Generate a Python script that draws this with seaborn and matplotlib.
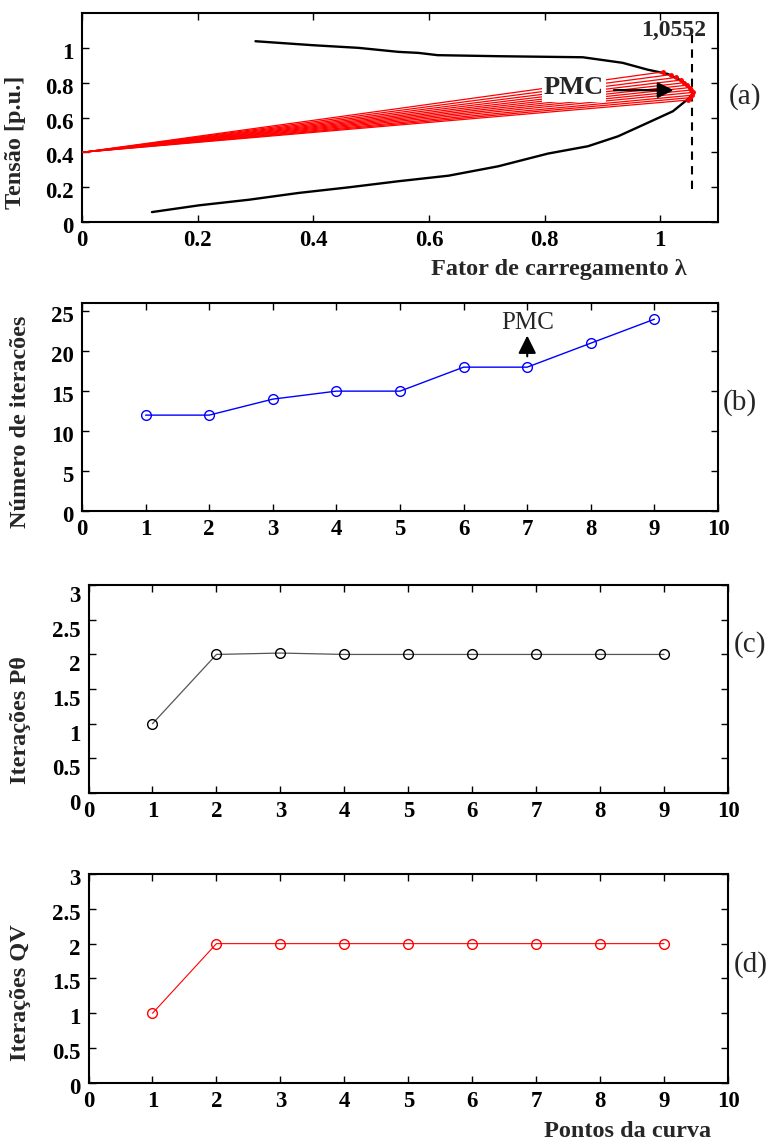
import matplotlib
matplotlib.use("Agg")
import matplotlib.pyplot as plt
from matplotlib.ticker import FuncFormatter, MultipleLocator
from matplotlib.transforms import ScaledTranslation
import pandas as pd
import seaborn as sns

# ---------------- data ----------------
# (a) PV curve (nose curve): loading factor vs. voltage
lam_curve = [0.300, 0.400, 0.478, 0.547, 0.582, 0.615, 0.720, 0.866, 0.935, 0.978,
             1.013, 1.039, 1.054, 1.056, 1.047, 1.022, 0.978, 0.927, 0.875, 0.806,
             0.720, 0.634, 0.547, 0.461, 0.375, 0.289, 0.203, 0.121]
v_curve = [1.038, 1.015, 1.000, 0.977, 0.971, 0.958, 0.952, 0.946, 0.914, 0.875,
           0.850, 0.808, 0.760, 0.732, 0.703, 0.636, 0.569, 0.492, 0.435, 0.393,
           0.320, 0.266, 0.234, 0.199, 0.167, 0.128, 0.096, 0.057]

# (a) points computed near the maximum loading point, joined to the pivot
lam_fan = [1.005, 1.018, 1.028, 1.036, 1.042, 1.047, 1.051, 1.054, 1.056, 1.055, 1.052, 1.048]
v_fan = [0.862, 0.846, 0.830, 0.815, 0.800, 0.786, 0.772, 0.758, 0.744, 0.728, 0.714, 0.700]
fan_pivot_lam = 0.0
fan_pivot_v = 0.40
lam_max = 1.0552

# (b)-(d) iterations per curve point
points = [1, 2, 3, 4, 5, 6, 7, 8, 9]
iter_total = [12, 12, 14, 15, 15, 18, 18, 21, 24]
iter_ptheta = [1, 2, 2.02, 2, 2, 2, 2, 2, 2]
iter_qv = [1, 2, 2, 2, 2, 2, 2, 2, 2]

# ---------------- style ----------------
sns.set_theme(style="ticks")
plt.rcParams["font.family"] = ["Liberation Serif", "DejaVu Serif"]
plt.rcParams["font.weight"] = "bold"
plt.rcParams["axes.labelweight"] = "bold"
plt.rcParams["axes.linewidth"] = 1.5
plt.rcParams["axes.edgecolor"] = "black"

TICK_FS = 16.5
LABEL_FS = 17.5
fmt = FuncFormatter(lambda v, p: "%g" % round(v, 3))

fig = plt.figure(figsize=(7.7, 11.42), dpi=100)


def style_axes(ax, ylab_shift=3):
    ax.tick_params(direction="in", length=5, width=1, top=True, right=True,
                   labelsize=TICK_FS, colors="black")
    ax.tick_params(axis="y", pad=6)
    ax.tick_params(axis="x", pad=6)
    for s in ax.spines.values():
        s.set_visible(True)
        s.set_linewidth(1.5)
        s.set_color("black")
    ax.xaxis.set_major_formatter(fmt)
    ax.yaxis.set_major_formatter(fmt)
    ax.grid(False)
    shift = ScaledTranslation(0, -ylab_shift / 100, fig.dpi_scale_trans)
    for lab in ax.get_yticklabels():
        lab.set_fontweight("bold")
        lab.set_transform(lab.get_transform() + shift)
    for lab in ax.get_xticklabels():
        lab.set_fontweight("bold")


# ---------------- (a) ----------------
ax_a = fig.add_axes([0.1065, 0.8056, 0.826, 0.183])
df_curve = pd.DataFrame({"lam": lam_curve, "v": v_curve})
sns.lineplot(data=df_curve, x="lam", y="v", sort=False, estimator=None,
             color="black", lw=1.7, ax=ax_a)
for lx, vy in zip(lam_fan, v_fan):
    ax_a.plot([fan_pivot_lam, lx], [fan_pivot_v, vy], color="red", lw=0.9, zorder=3)
ax_a.plot(lam_fan, v_fan, "o", color="red", ms=2.5, zorder=4)
ax_a.plot([lam_max, lam_max], [0.19, 1.09], color="black", lw=1.5,
          ls=(0, (4, 3)), zorder=2)
ax_a.text(1.023, 1.10, "1,0552", ha="center", va="center", fontsize=17,
          fontweight="bold")
ax_a.text(0.851, 0.77, "PMC", ha="center", va="center", fontsize=19,
          fontweight="bold", zorder=5,
          bbox=dict(facecolor="white", edgecolor="none", pad=1.5))
ax_a.annotate("", xy=(1.028, 0.757), xytext=(0.915, 0.757),
              arrowprops=dict(arrowstyle="-|>", color="black", lw=1.6,
                              mutation_scale=24), zorder=6)
ax_a.set_xlim(0, 1.1)
ax_a.set_ylim(0, 1.2)
ax_a.set_xticks([0, 0.2, 0.4, 0.6, 0.8, 1.0])
ax_a.set_yticks([0, 0.2, 0.4, 0.6, 0.8, 1.0])
style_axes(ax_a)
ax_a.set_xlabel("Fator de carregamento λ", fontsize=LABEL_FS, fontweight="bold")
ax_a.set_ylabel("Tensão [p.u.]", fontsize=LABEL_FS, fontweight="bold")
ax_a.xaxis.set_label_coords(0.75, -0.175)
ax_a.yaxis.set_label_coords(-0.088, 0.38)

# ---------------- (b) ----------------
ax_b = fig.add_axes([0.1065, 0.5525, 0.826, 0.182])
sns.lineplot(x=points, y=iter_total, color="blue", lw=1.0, marker="o",
             markersize=7, markerfacecolor="none", markeredgecolor="blue",
             markeredgewidth=1.0, ax=ax_b)
ax_b.annotate("", xy=(7, 22.3), xytext=(7, 19.0),
              arrowprops=dict(arrowstyle="-|>", color="black", lw=1.5,
                              mutation_scale=27))
ax_b.text(7, 23.5, "PMC", ha="center", va="center", fontsize=18,
          fontweight="normal")
ax_b.set_xlim(0, 10)
ax_b.set_ylim(0, 26)
ax_b.xaxis.set_major_locator(MultipleLocator(1))
ax_b.set_yticks([0, 5, 10, 15, 20, 25])
style_axes(ax_b)
ax_b.set_ylabel("Número de iteracões", fontsize=LABEL_FS, fontweight="bold")
ax_b.yaxis.set_label_coords(-0.08, 0.43)

# ---------------- (c) ----------------
ax_c = fig.add_axes([0.115, 0.3056, 0.8305, 0.182])
sns.lineplot(x=points, y=iter_ptheta, color="#555555", lw=0.9, marker="o",
             markersize=7, markerfacecolor="none", markeredgecolor="black",
             markeredgewidth=1.0, ax=ax_c)
ax_c.set_xlim(0, 10)
ax_c.set_ylim(0, 3)
ax_c.xaxis.set_major_locator(MultipleLocator(1))
ax_c.yaxis.set_major_locator(MultipleLocator(0.5))
style_axes(ax_c, ylab_shift=9)
ax_c.set_ylabel("Iterações Pθ", fontsize=LABEL_FS, fontweight="bold")
ax_c.yaxis.set_label_coords(-0.09, 0.35)

# ---------------- (d) ----------------
ax_d = fig.add_axes([0.115, 0.0517, 0.8305, 0.183])
sns.lineplot(x=points, y=iter_qv, color="red", lw=0.8, marker="o",
             markersize=7, markerfacecolor="none", markeredgecolor="red",
             markeredgewidth=1.0, ax=ax_d)
ax_d.set_xlim(0, 10)
ax_d.set_ylim(0, 3)
ax_d.xaxis.set_major_locator(MultipleLocator(1))
ax_d.yaxis.set_major_locator(MultipleLocator(0.5))
style_axes(ax_d)
ax_d.set_ylabel("Iterações QV", fontsize=LABEL_FS, fontweight="bold")
ax_d.set_xlabel("Pontos da curva", fontsize=LABEL_FS, fontweight="bold")
ax_d.yaxis.set_label_coords(-0.09, 0.43)
ax_d.xaxis.set_label_coords(0.843, -0.18)

# panel tags
for tag, (px, py) in {"(a)": (745, 97), "(b)": (740, 403),
                      "(c)": (750, 645), "(d)": (751, 965)}.items():
    fig.text(px / 770, 1 - py / 1142, tag, ha="center", va="center",
             fontsize=21, fontweight="normal")

fig.savefig("out.png", dpi=100)
